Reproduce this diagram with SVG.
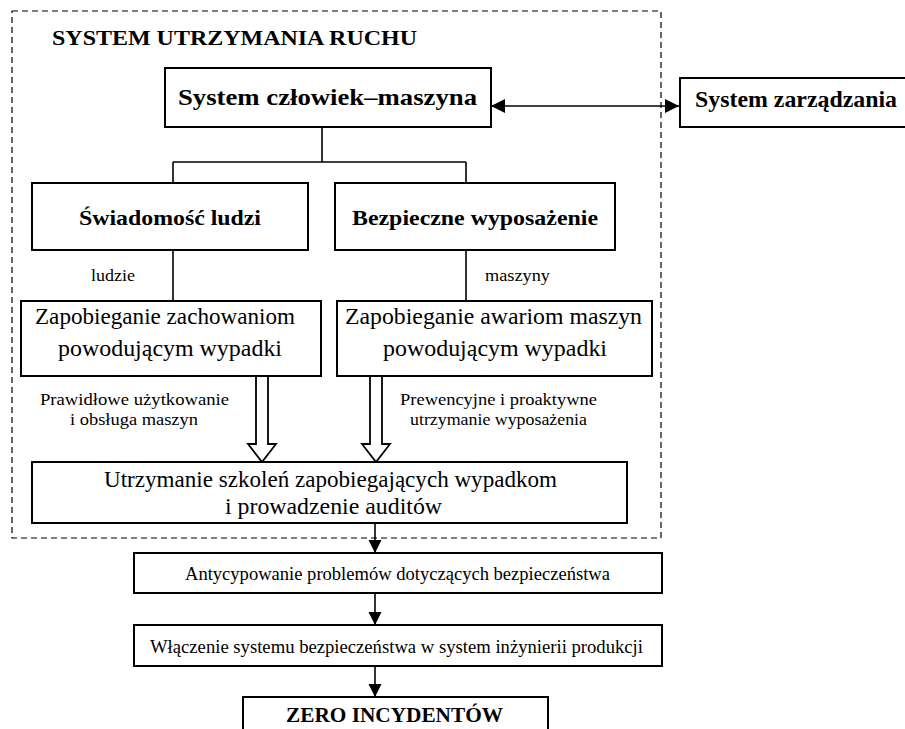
<svg xmlns="http://www.w3.org/2000/svg" width="905" height="729" viewBox="0 0 905 729">
<style>
.box{fill:#fff;stroke:#000;stroke-width:2}
.ln{fill:none;stroke:#000;stroke-width:1.6}
.t{font-family:"Liberation Serif","Times New Roman",serif;fill:#000}
.b{font-weight:bold}
.hollow{fill:#fff;stroke:#000;stroke-width:1.8;stroke-linejoin:miter}
</style>
<defs>
<marker id="ah" viewBox="0 0 10 10" refX="10" refY="5" markerWidth="16" markerHeight="14" markerUnits="userSpaceOnUse" orient="auto-start-reverse">
<path d="M0,0 L10,5 L0,10 Z" fill="#000"/>
</marker>
<marker id="dh" viewBox="0 0 10 10" refX="10" refY="5" markerWidth="13" markerHeight="15" markerUnits="userSpaceOnUse" orient="auto">
<path d="M0,0 L10,5 L0,10 Z" fill="#000"/>
</marker>
</defs>
<rect width="905" height="729" fill="#fff"/>
<g id="frame">
<rect x="12" y="11" width="649" height="527" fill="none" stroke="#000" stroke-width="1.2" stroke-dasharray="6,4"/>
<text class="t b" x="52" y="45" font-size="22" textLength="365" lengthAdjust="spacingAndGlyphs">SYSTEM UTRZYMANIA RUCHU</text>
</g>
<g id="connectors">
<path class="ln" d="M322,127 V162 M173,162 H466 M173,162 V183 M466,162 V183"/>
<path class="ln" d="M173,250 V301 M466,250 V301"/>
<line class="ln" x1="491" y1="106" x2="679" y2="106" stroke-width="2" marker-start="url(#ah)" marker-end="url(#ah)"/>
<polygon class="hollow" points="256,376 268,376 268,444 276,444 262,462 248,444 256,444"/>
<polygon class="hollow" points="370,376 382,376 382,444 390,444 376,462 362,444 370,444"/>
<line class="ln" x1="375" y1="523" x2="375" y2="553" stroke-width="2" marker-end="url(#dh)"/>
<line class="ln" x1="375" y1="593" x2="375" y2="625" stroke-width="2" marker-end="url(#dh)"/>
<line class="ln" x1="375" y1="666" x2="375" y2="697" stroke-width="2" marker-end="url(#dh)"/>
</g>
<g id="n-czlowiek">
<rect class="box" x="165" y="68" width="326" height="59"/>
<text class="t b" x="178" y="105" font-size="24" textLength="299" lengthAdjust="spacingAndGlyphs">System człowiek–maszyna</text>
</g>
<g id="n-zarzadzania">
<rect class="box" x="680" y="78" width="235" height="49"/>
<text class="t b" x="695" y="107" font-size="23" textLength="202" lengthAdjust="spacingAndGlyphs">System zarządzania</text>
</g>
<g id="n-swiadomosc">
<rect class="box" x="32" y="183" width="276" height="67"/>
<text class="t b" x="79" y="225" font-size="21" textLength="182" lengthAdjust="spacingAndGlyphs">Świadomość ludzi</text>
</g>
<g id="n-bezpieczne">
<rect class="box" x="335" y="183" width="280" height="67"/>
<text class="t b" x="352" y="225" font-size="21" textLength="246" lengthAdjust="spacingAndGlyphs">Bezpieczne wyposażenie</text>
</g>
<g id="labels">
<text class="t" x="91" y="281" font-size="17" textLength="44" lengthAdjust="spacingAndGlyphs">ludzie</text>
<text class="t" x="485" y="281" font-size="17" textLength="65" lengthAdjust="spacingAndGlyphs">maszyny</text>
<text class="t" x="40" y="405" font-size="17" textLength="189" lengthAdjust="spacingAndGlyphs">Prawidłowe użytkowanie</text>
<text class="t" x="70" y="425" font-size="17" textLength="128" lengthAdjust="spacingAndGlyphs">i obsługa maszyn</text>
<text class="t" x="400" y="405" font-size="17" textLength="197" lengthAdjust="spacingAndGlyphs">Prewencyjne i proaktywne</text>
<text class="t" x="410" y="425" font-size="17" textLength="177" lengthAdjust="spacingAndGlyphs">utrzymanie wyposażenia</text>
</g>
<g id="n-zach">
<rect class="box" x="21" y="301" width="300" height="75"/>
<text class="t" x="35" y="324" font-size="23" textLength="260" lengthAdjust="spacingAndGlyphs">Zapobieganie zachowaniom</text>
<text class="t" x="58" y="356" font-size="23" textLength="224" lengthAdjust="spacingAndGlyphs">powodującym wypadki</text>
</g>
<g id="n-awarie">
<rect class="box" x="337" y="301" width="315" height="75"/>
<text class="t" x="345" y="324" font-size="23" textLength="297" lengthAdjust="spacingAndGlyphs">Zapobieganie awariom maszyn</text>
<text class="t" x="383" y="356" font-size="23" textLength="224" lengthAdjust="spacingAndGlyphs">powodującym wypadki</text>
</g>
<g id="n-szkolenia">
<rect class="box" x="32" y="462" width="595" height="61"/>
<text class="t" x="104" y="487" font-size="23" textLength="453" lengthAdjust="spacingAndGlyphs">Utrzymanie szkoleń zapobiegających wypadkom</text>
<text class="t" x="225" y="514" font-size="23" textLength="217" lengthAdjust="spacingAndGlyphs">i prowadzenie auditów</text>
</g>
<g id="n-antycypowanie">
<rect class="box" x="134" y="553" width="528" height="40"/>
<text class="t" x="185" y="580" font-size="18" textLength="425" lengthAdjust="spacingAndGlyphs">Antycypowanie problemów dotyczących bezpieczeństwa</text>
</g>
<g id="n-wlaczenie">
<rect class="box" x="134" y="625" width="528" height="41"/>
<text class="t" x="150" y="653" font-size="18" textLength="493" lengthAdjust="spacingAndGlyphs">Włączenie systemu bezpieczeństwa w system inżynierii produkcji</text>
</g>
<g id="n-zero">
<rect class="box" x="243" y="697" width="305" height="45"/>
<text class="t b" x="286" y="722" font-size="21" textLength="217" lengthAdjust="spacingAndGlyphs">ZERO INCYDENTÓW</text>
</g>
</svg>
